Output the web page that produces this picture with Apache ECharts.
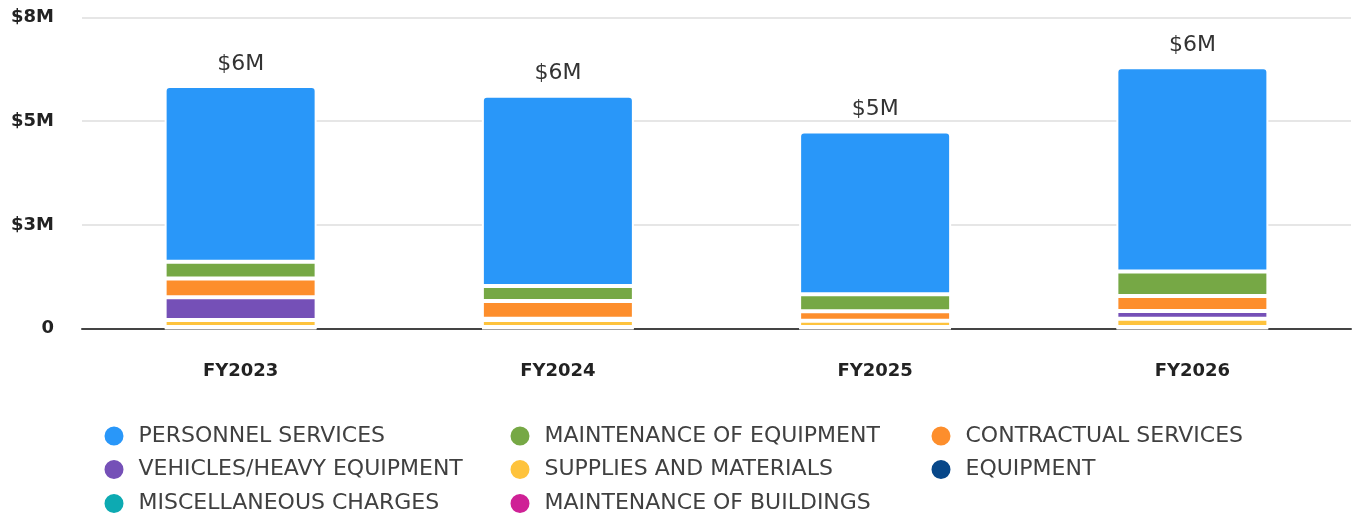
<!DOCTYPE html>
<html>
<head>
<meta charset="utf-8">
<script src="https://cdn.jsdelivr.net/npm/echarts@6/dist/echarts.min.js"></script>
<style>
  html, body { margin: 0; padding: 0; background: #fff; }
  #chart { width: 1353px; height: 516px; }
</style>
</head>
<body>
<div id="chart"></div>
<script>
// fiscal years
var years = ['FY2023', 'FY2024', 'FY2025', 'FY2026']

// spending per category, in dollars
var personnelServices = [4240000, 4590000, 3925000, 4925000]
var maintenanceOfEquipment = [405000, 360000, 410000, 590000]
var contractualServices = [450000, 430000, 230000, 360000]
var vehiclesHeavyEquipment = [550000, 30000, 0, 190000]
var suppliesAndMaterials = [170000, 170000, 150000, 200000]
var equipment = [20000, 20000, 20000, 20000]
var miscellaneousCharges = [10000, 10000, 10000, 10000]
var maintenanceOfBuildings = [5000, 5000, 5000, 5000]

// y axis ticks
var yTicks = [0, 2500000, 5000000, 7500000]

var font = 'DejaVu Sans'

function money (v) {
  if (v === 0) return '0'
  return '$' + Math.round(v / 1e6) + 'M'
}

var totals = years.map(function (y, i) {
  return personnelServices[i] + maintenanceOfEquipment[i] + contractualServices[i] +
    vehiclesHeavyEquipment[i] + suppliesAndMaterials[i] + equipment[i] +
    miscellaneousCharges[i] + maintenanceOfBuildings[i]
})

// bottom of the stack first; col/row give the legend cell
var stackDefs = [
  { name: 'MAINTENANCE OF BUILDINGS', data: maintenanceOfBuildings, color: '#cf2196', col: 1, row: 2 },
  { name: 'MISCELLANEOUS CHARGES', data: miscellaneousCharges, color: '#0daab2', col: 0, row: 2 },
  { name: 'EQUIPMENT', data: equipment, color: '#074789', col: 2, row: 1 },
  { name: 'SUPPLIES AND MATERIALS', data: suppliesAndMaterials, color: '#fec33d', col: 1, row: 1 },
  { name: 'VEHICLES/HEAVY EQUIPMENT', data: vehiclesHeavyEquipment, color: '#7550b7', col: 0, row: 1 },
  { name: 'CONTRACTUAL SERVICES', data: contractualServices, color: '#fd8e2c', col: 2, row: 0 },
  { name: 'MAINTENANCE OF EQUIPMENT', data: maintenanceOfEquipment, color: '#76a845', col: 1, row: 0 },
  { name: 'PERSONNEL SERVICES', data: personnelServices, color: '#2997f9', col: 0, row: 0 }
]

var series = stackDefs.map(function (d, idx) {
  var isTop = idx === stackDefs.length - 1
  var s = {
    name: d.name,
    type: 'bar',
    stack: 'total',
    barWidth: 152,
    data: d.data,
    itemStyle: {
      color: d.color,
      borderColor: '#fff',
      borderWidth: 2,
      borderRadius: isTop ? [4, 4, 0, 0] : 0
    }
  }
  if (isTop) {
    s.label = {
      show: true,
      position: 'top',
      distance: 11,
      fontFamily: font,
      fontSize: 22,
      color: '#333',
      formatter: function (p) { return money(totals[p.dataIndex]) }
    }
  }
  return s
})

var colLeft = [102.5, 508.5, 929.5]
var rowTop = [424.5, 458, 492]

// one legend per item so the three columns line up
var legends = stackDefs.map(function (d) {
  return {
    left: colLeft[d.col],
    top: rowTop[d.row],
    itemWidth: 21,
    itemHeight: 21,
    icon: 'circle',
    padding: 0,
    textStyle: { fontFamily: font, fontSize: 22, color: '#404040', padding: [0, 0, 0, 9] },
    data: [d.name]
  }
})

var chart = echarts.init(document.getElementById('chart'))
chart.setOption({
  animation: false,
  grid: { left: 82, right: 2, top: 17.5, bottom: 516 - 328.5 },
  legend: legends,
  xAxis: {
    type: 'category',
    data: years,
    axisTick: { show: false },
    axisLine: { lineStyle: { color: '#444', width: 2 } },
    axisLabel: { margin: 34, fontFamily: font, fontSize: 18, fontWeight: 'bold', color: '#222' }
  },
  yAxis: {
    type: 'value',
    min: yTicks[0],
    max: yTicks[yTicks.length - 1],
    interval: yTicks[1] - yTicks[0],
    axisLine: { show: false },
    axisTick: { show: false },
    splitLine: { lineStyle: { color: '#e6e6e6', width: 2 } },
    axisLabel: { margin: 28, fontFamily: font, fontSize: 18, fontWeight: 'bold', color: '#222', formatter: money }
  },
  series: series
})
</script>
</body>
</html>
